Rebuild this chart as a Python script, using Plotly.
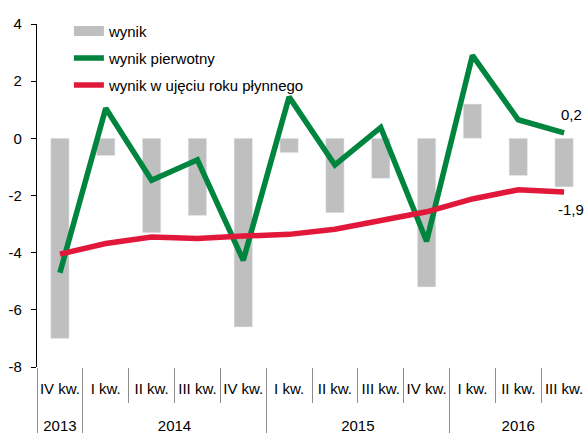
import plotly.graph_objects as go

# ---- data ----
quarters = ["IV kw.", "I kw.", "II kw.", "III kw.", "IV kw.", "I kw.", "II kw.", "III kw.",
            "IV kw.", "I kw.", "II kw.", "III kw."]
years = ["2013", "2014", "2014", "2014", "2014", "2015", "2015", "2015", "2015", "2016", "2016", "2016"]
wynik = [-7.0, -0.6, -3.3, -2.7, -6.6, -0.5, -2.6, -1.4, -5.2, 1.2, -1.3, -1.7]
wynik_pierwotny = [-4.7, 1.05, -1.47, -0.75, -4.27, 1.45, -0.93, 0.38, -3.6, 2.9, 0.65, 0.19]
wynik_roku = [-4.05, -3.68, -3.45, -3.5, -3.42, -3.36, -3.18, -2.89, -2.57, -2.12, -1.8, -1.88]
y_ticks = [4, 2, 0, -2, -4, -6, -8]

names = ["wynik", "wynik pierwotny", "wynik w ujęciu roku płynnego"]
GRAY = "#BFBFBF"
GREEN = "#00853F"
RED = "#E2183A"
SEP = "#8C8C8C"
FONT = "Arial, Liberation Sans, sans-serif"

x_cat = [f"{q} {y}" for q, y in zip(quarters, years)]
n = len(x_cat)
xr = [-0.5, n - 0.5]
ymin, ymax = min(y_ticks), max(y_ticks)

# year groups: boundaries and centers from years list
year_names, year_start, year_end = [], [], []
for i, y in enumerate(years):
    if not year_names or year_names[-1] != y:
        year_names.append(y)
        year_start.append(i)
        year_end.append(i)
    else:
        year_end[-1] = i
year_centers = [(s + e) / 2 for s, e in zip(year_start, year_end)]
year_bounds = [s - 0.5 for s in year_start]
inner_bounds = [i + 0.5 for i in range(n - 1)]

fig = go.Figure()
fig.add_trace(go.Bar(x=x_cat, y=wynik, marker_color=GRAY, showlegend=False, name=names[0],
                     legendgroup="g0"))
fig.add_trace(go.Scatter(x=[None], y=[None], mode="lines", name=names[0], legendgroup="g0",
                         line=dict(color=GRAY, width=10)))
fig.add_trace(go.Scatter(x=x_cat, y=wynik_pierwotny, mode="lines", name=names[1], legendgroup="g1",
                         line=dict(color=GREEN, width=5.5)))
fig.add_trace(go.Scatter(x=x_cat, y=wynik_roku, mode="lines", name=names[2], legendgroup="g2",
                         line=dict(color=RED, width=5.5)))
# empty helper traces so the year-axes get their own subplots
for ax in ("x2", "x3"):
    fig.add_trace(go.Scatter(x=[None], y=[None], xaxis=ax, yaxis="y", mode="lines",
                             showlegend=False, hoverinfo="skip"))

def fmt(v):
    return f"{v:.1f}".replace(".", ",")

fig.add_annotation(x=x_cat[-1], y=wynik_pierwotny[-1], text=fmt(wynik_pierwotny[-1]),
                   showarrow=False, xshift=7, yshift=18, font=dict(size=15, color="black", family=FONT))
fig.add_annotation(x=x_cat[-1], y=wynik_roku[-1], text=fmt(wynik_roku[-1]),
                   showarrow=False, xshift=7, yshift=-17, font=dict(size=15, color="black", family=FONT))

fig.update_layout(
    width=587, height=433,
    margin=dict(l=37, r=0, t=24, b=66, autoexpand=False),
    paper_bgcolor="white", plot_bgcolor="white",
    font=dict(family=FONT, size=15, color="black"),
    bargap=0.6,
    showlegend=True,
    legend=dict(x=0.058, y=1.027, xanchor="left", yanchor="top", bgcolor="rgba(0,0,0,0)",
                font=dict(size=15, family=FONT, color="black"), tracegroupgap=4.5,
                traceorder="grouped"),
    xaxis=dict(type="category", categoryorder="array", categoryarray=x_cat, range=xr,
               tickvals=x_cat, ticktext=quarters, tickson="boundaries", tickangle=0,
               ticks="outside", ticklen=35, tickcolor=SEP, tickwidth=1,
               ticklabelstandoff=11, showline=False, showgrid=False, zeroline=False,
               tickfont=dict(size=15), automargin=False),
    xaxis2=dict(overlaying="x", anchor="y", side="bottom", type="linear", range=xr,
                tickmode="array", tickvals=year_bounds, showticklabels=False,
                ticks="outside", ticklen=66, tickcolor=SEP, tickwidth=1,
                showline=False, showgrid=False, zeroline=False, automargin=False),
    xaxis3=dict(overlaying="x", anchor="y", side="bottom", type="linear", range=xr,
                tickmode="array", tickvals=year_centers, ticktext=year_names, tickangle=0,
                ticks="", ticklabelstandoff=48, showline=False, showgrid=False,
                zeroline=False, tickfont=dict(size=15), automargin=False),
    xaxis4=dict(overlaying="x", anchor="free", position=(0 - ymin) / (ymax - ymin), side="bottom",
                type="linear", range=xr, tickmode="array", tickvals=inner_bounds,
                showticklabels=False, ticks="outside", ticklen=4, tickcolor="black",
                showline=True, linecolor="black", linewidth=1.2,
                showgrid=False, zeroline=False, automargin=False),
    yaxis=dict(range=[ymin, ymax], tickvals=y_ticks, ticktext=[str(v) for v in y_ticks],
               ticks="outside", ticklen=5, tickcolor="black", showline=True, linecolor="black",
               linewidth=1.2, showgrid=False, zeroline=False, tickfont=dict(size=15),
               ticklabelstandoff=6, automargin=False),
)

fig.write_html("out.html", config={"displayModeBar": False},
               post_script="document.body.style.margin='0';document.body.style.overflow='hidden';")
